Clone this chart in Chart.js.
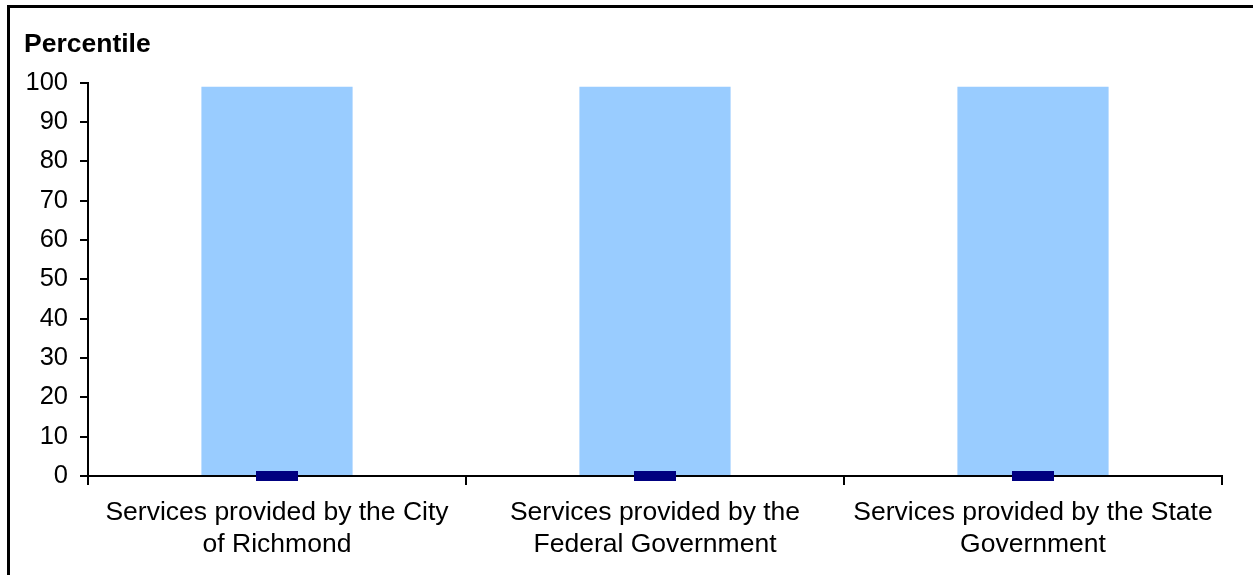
<!DOCTYPE html>
<html>
<head>
<meta charset="utf-8">
<script src="https://cdn.jsdelivr.net/npm/chart.js@4/dist/chart.umd.min.js"></script>
<style>
  html, body { margin: 0; padding: 0; background: #fff; overflow: hidden; width: 1253px; height: 575px; }
  #frame { position: absolute; left: 7px; top: 5px; width: 3000px; height: 3000px; border-top: 3px solid #000; border-left: 3px solid #000; }
  #wrap { position: absolute; left: 0; top: 0; width: 1253px; height: 575px; }
</style>
</head>
<body>
<div id="frame"></div>
<div id="wrap"><canvas id="c"></canvas></div>
<script>
const categories = [
  ["Services provided by the City", "of Richmond"],
  ["Services provided by the", "Federal Government"],
  ["Services provided by the State", "Government"]
];
const percentileBars = [99, 99, 99];
const markerValues = [0, 0, 0];
const yTicks = [0, 10, 20, 30, 40, 50, 60, 70, 80, 90, 100];

const FONT = "'Liberation Sans', Arial, sans-serif";

new Chart(document.getElementById('c'), {
  data: {
    labels: categories,
    datasets: [
      {
        type: 'line',
        data: markerValues,
        showLine: false,
        pointStyle: 'line',
        pointRadius: 21,
        pointHoverRadius: 21,
        pointBorderWidth: 10,
        pointHoverBorderWidth: 10,
        borderColor: '#000080',
        backgroundColor: '#000080',
        clip: false,
        order: 0
      },
      {
        type: 'bar',
        data: percentileBars,
        backgroundColor: '#99CCFF',
        borderWidth: 0,
        categoryPercentage: 1.0,
        barPercentage: 0.4,
        order: 1
      }
    ]
  },
  options: {
    responsive: true,
    maintainAspectRatio: false,
    animation: false,
    events: [],
    layout: { padding: { left: 24, right: 26, top: 0, bottom: 0 } },
    plugins: {
      legend: { display: false },
      tooltip: { enabled: false },
      title: {
        display: true,
        text: 'Percentile',
        align: 'start',
        color: '#000',
        font: { family: FONT, size: 26.5, weight: 'bold' },
        padding: { top: 29, bottom: 22 }
      }
    },
    scales: {
      x: {
        type: 'category',
        offset: true,
        grid: { offset: true, drawOnChartArea: false, drawTicks: true, tickLength: 9, color: '#000', lineWidth: 2 },
        border: { display: true, color: '#000', width: 2 },
        ticks: {
          color: '#000',
          font: { family: FONT, size: 26.5, lineHeight: 1.21 },
          maxRotation: 0,
          minRotation: 0,
          autoSkip: false,
          padding: 12
        },
        afterFit: (s) => { s.height = 99; }
      },
      y: {
        min: 0,
        max: 100,
        afterBuildTicks: (s) => { s.ticks = yTicks.map(v => ({ value: v })); },
        grid: { drawOnChartArea: false, drawTicks: true, tickLength: 8, color: '#000', lineWidth: 2 },
        border: { display: true, color: '#000', width: 2 },
        ticks: {
          color: '#000',
          font: { family: FONT, size: 25.5 },
          padding: 12
        },
        afterFit: (s) => { s.width = 64; }
      }
    }
  }
});
</script>
</body>
</html>
